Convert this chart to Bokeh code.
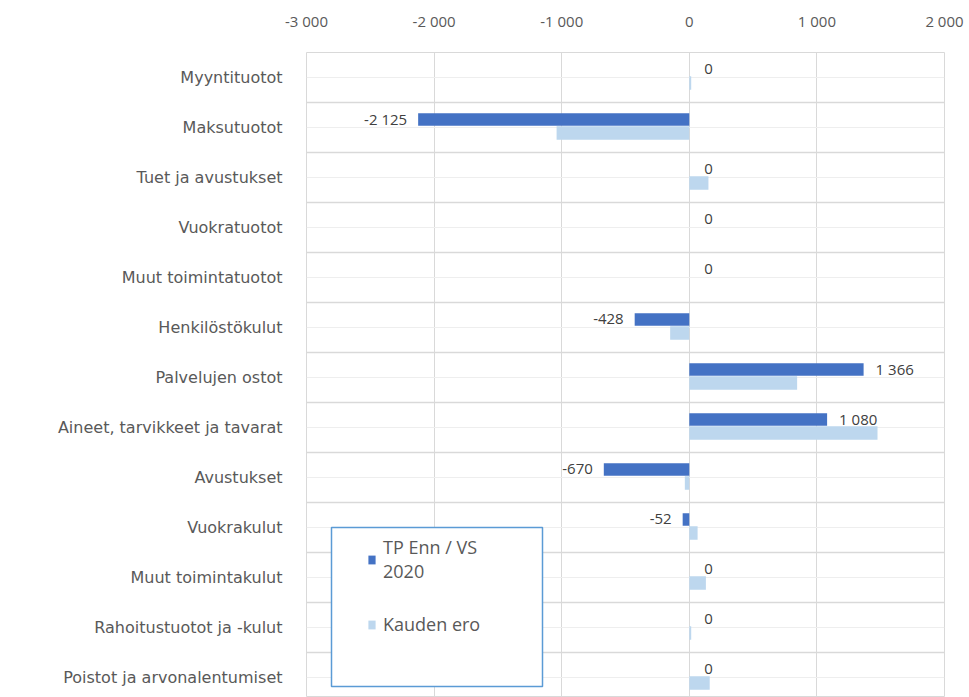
from bokeh.plotting import figure
from bokeh.models import (Range1d, FixedTicker, ColumnDataSource, Legend, LegendItem, Grid,
                          BoxAnnotation)
from bokeh.embed import file_html
from bokeh.resources import INLINE
from bokeh.core.properties import value
from bokeh.transform import dodge

# ---- data ----
categories = ["Myyntituotot", "Maksutuotot", "Tuet ja avustukset", "Vuokratuotot",
              "Muut toimintatuotot", "Henkilöstökulut", "Palvelujen ostot",
              "Aineet, tarvikkeet ja tavarat", "Avustukset", "Vuokrakulut",
              "Muut toimintakulut", "Rahoitustuotot ja -kulut", "Poistot ja arvonalentumiset"]
tp_enn = [0, -2125, 0, 0, 0, -428, 1366, 1080, -670, -52, 0, 0, 0]
kauden_ero = [15, -1040, 150, 0, 0, -150, 845, 1475, -35, 65, 130, 15, 160]
x_ticks = [-3000, -2000, -1000, 0, 1000, 2000]
x_tick_labels = ["-3 000", "-2 000", "-1 000", "0", "1 000", "2 000"]
series_names = ["TP Enn / VS\n2020", "Kauden ero"]

FONT = "Open Sans"
TXT = "#595959"

n = len(categories)
ypos = list(range(n))

def fmt(v):
    return f"{v:,}".replace(",", " ")

src = ColumnDataSource(dict(y=ypos, tp=tp_enn, ke=kauden_ero))

neg = [i for i, v in enumerate(tp_enn) if v < 0]
nonneg = [i for i, v in enumerate(tp_enn) if v >= 0]
src_neg = ColumnDataSource(dict(y=[ypos[i] for i in neg], x=[tp_enn[i] for i in neg],
                                label=[fmt(tp_enn[i]) for i in neg]))
src_pos = ColumnDataSource(dict(y=[ypos[i] for i in nonneg], x=[tp_enn[i] for i in nonneg],
                                label=[fmt(tp_enn[i]) for i in nonneg],
                                off=[15 if tp_enn[i] == 0 else 12 for i in nonneg]))

p = figure(width=969, height=697, output_backend="svg", toolbar_location=None,
           x_range=Range1d(-3000, 2000), y_range=Range1d(12.4, -0.5),
           x_axis_location="above",
           min_border_left=306, min_border_right=25, min_border_top=52, min_border_bottom=0)
p.outline_line_color = "#d9d9d9"
p.background_fill_color = "white"
p.border_fill_color = "white"

# axes
xa = p.xaxis[0]
xa.ticker = FixedTicker(ticks=x_ticks)
xa.major_label_overrides = {t: l for t, l in zip(x_ticks, x_tick_labels)}
xa.axis_line_color = None
xa.major_tick_line_color = None
xa.minor_tick_line_color = None
xa.major_tick_out = 0
xa.major_tick_in = 0
xa.major_label_standoff = 22
xa.major_label_text_font = FONT
xa.major_label_text_font_size = "15px"
xa.major_label_text_color = TXT

ya = p.yaxis[0]
ya.ticker = FixedTicker(ticks=ypos)
ya.major_label_overrides = {i: c for i, c in zip(ypos, categories)}
ya.axis_line_color = None
ya.major_tick_line_color = None
ya.minor_tick_line_color = None
ya.major_tick_out = 0
ya.major_tick_in = 0
ya.major_label_standoff = 24
ya.major_label_text_font = "DejaVu Sans"
ya.major_label_text_font_size = "16px"
ya.major_label_text_color = TXT

# grids
p.xgrid.ticker = FixedTicker(ticks=x_ticks)
p.xgrid.grid_line_color = "#d9d9d9"
p.ygrid.ticker = FixedTicker(ticks=[i - 0.5 for i in range(n + 1)])
p.ygrid.grid_line_color = "#d9d9d9"
p.ygrid.grid_line_width = 1.5
p.add_layout(Grid(dimension=1, ticker=FixedTicker(ticks=ypos), grid_line_color="#eeeeee"))

# chart-area left border
p.add_layout(BoxAnnotation(left=8, right=8, bottom=0, top=697,
                           left_units="canvas", right_units="canvas",
                           bottom_units="canvas", top_units="canvas",
                           fill_alpha=0, line_color="#d9d9d9", line_width=1))

# bars
r_dark = p.hbar(y=dodge("y", -0.16, range=p.y_range), left=0, right="tp", height=0.25,
                source=src, fill_color="#4472c4", line_color=None)
r_light = p.hbar(y=dodge("y", 0.11, range=p.y_range), left=0, right="ke", height=0.27,
                 source=src, fill_color="#bdd7ee", line_color=None)

# labels
p.text(x="x", y=dodge("y", -0.17, range=p.y_range), text="label", source=src_neg,
       x_offset=-11, text_align="right", text_baseline="middle",
       text_font=value(FONT), text_font_size="15px", text_color="#404040")
p.text(x="x", y=dodge("y", -0.17, range=p.y_range), text="label", source=src_pos,
       x_offset="off", text_align="left", text_baseline="middle",
       text_font=value(FONT), text_font_size="15px", text_color="#404040")

# legend frame (screen units, relative to the plot frame)
box = BoxAnnotation(left=25, right=236, bottom=11, top=170,
                    left_units="screen", right_units="screen",
                    bottom_units="screen", top_units="screen",
                    fill_color="white", fill_alpha=1.0,
                    line_color="#5b9bd5", line_width=1.5, line_alpha=1.0)
p.add_layout(box)

legend = Legend(items=[LegendItem(label=series_names[0], renderers=[r_dark]),
                       LegendItem(label=series_names[1], renderers=[r_light])],
                location=(61, 61), orientation="vertical",
                border_line_color=None, background_fill_alpha=0,
                label_text_font=FONT, label_text_font_size="18px", label_text_color=TXT,
                glyph_width=9, glyph_height=11, label_standoff=7,
                padding=10, spacing=29, margin=0)
p.add_layout(legend, "center")

open("out.html", "w").write(file_html(p, INLINE))
